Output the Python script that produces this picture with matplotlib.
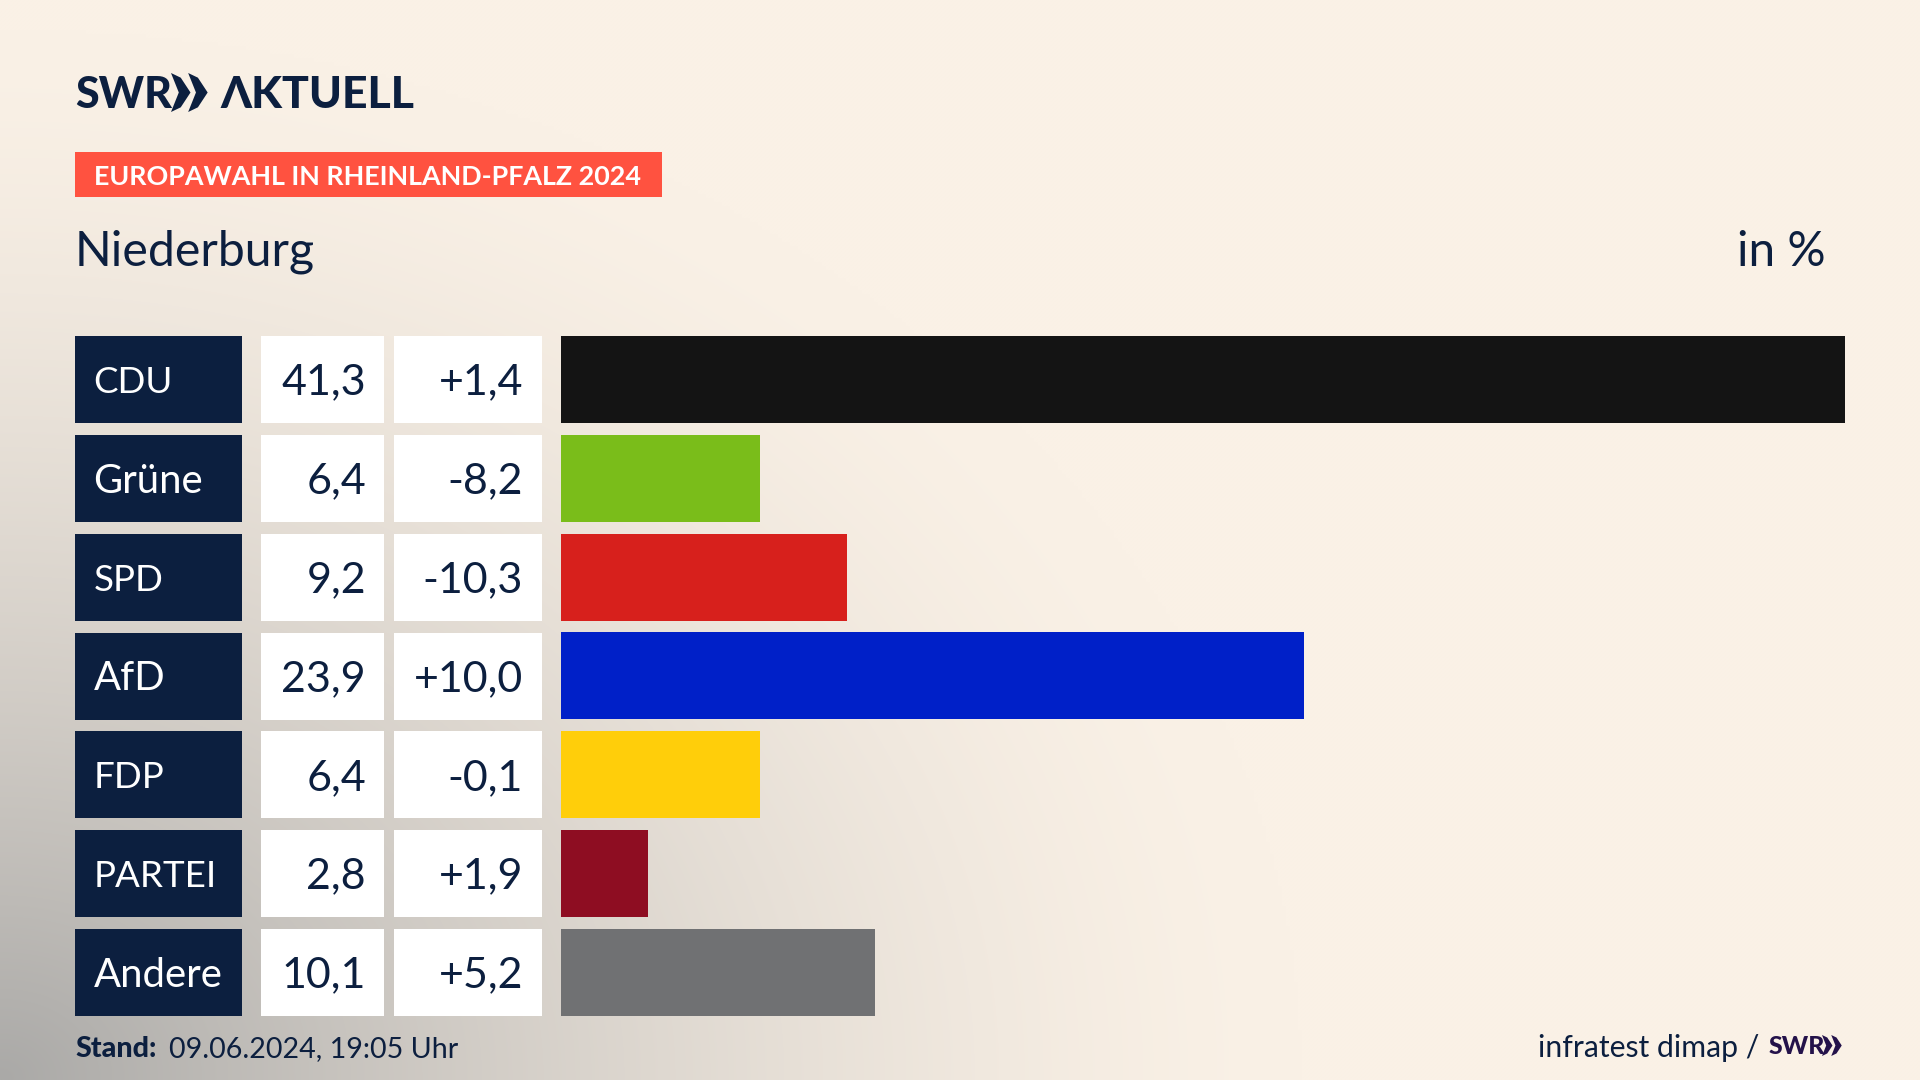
import numpy as np
import matplotlib
matplotlib.use("Agg")
import matplotlib.pyplot as plt
from matplotlib.patches import Rectangle, Polygon

parties = ["CDU", "Grüne", "SPD", "AfD", "FDP", "PARTEI", "Andere"]
shares = [41.3, 6.4, 9.2, 23.9, 6.4, 2.8, 10.1]
changes = [1.4, -8.2, -10.3, 10.0, -0.1, 1.9, 5.2]
colors = ["#141414", "#7ABD1A", "#D7201C", "#0020C8", "#FFCE0A", "#8E0D22", "#707173"]

NAVY = "#0C1F3F"
FONT = "Lato"
LOGO = ["Lato", "Liberation Sans"]
W, H = 1920, 1080
fig = plt.figure(figsize=(W / 100, H / 100), dpi=100)

bg = fig.add_axes([0, 0, 1, 1])
bg.set_xlim(0, W); bg.set_ylim(H, 0); bg.axis("off")
yy, xx = np.mgrid[0:H:270j, 0:W:480j]
d = np.sqrt((xx / 1300) ** 2 + ((H - yy) / 1050) ** 2)
t = np.clip(1 - d, 0, 1) ** 1.5
beige = np.array([250, 241, 230]) / 255
gray = np.array([170, 169, 167]) / 255
img = beige + (gray - beige) * t[..., None]
bg.imshow(img, extent=(0, W, H, 0), aspect="auto", interpolation="bilinear", zorder=0)
bg.set_xlim(0, W); bg.set_ylim(H, 0)

def chevrons(x, y, h, color):
    w = h * 0.5
    for k in (0, 1):
        x0 = x + k * h * 0.44
        bg.add_patch(Polygon([(x0, y), (x0 + w * 0.5, y + h * 0.12), (x0 + w, y + h / 2),
                              (x0 + w * 0.5, y + h * 0.88), (x0, y + h), (x0 + w * 0.4, y + h / 2)],
                             closed=True, fc=color, ec="none", zorder=3))

bg.text(75, 95, "SWR", family=LOGO, weight="black", fontsize=31, color=NAVY, va="center", ha="left", zorder=3)
chevrons(171, 73, 39, NAVY)
bg.text(220, 95, "ΛKTUELL", family=LOGO, weight="black", fontsize=32, color=NAVY, va="center", ha="left", zorder=3)

bg.add_patch(Rectangle((75, 152), 587, 45, fc="#FF5240", ec="none", zorder=2))
bg.text(94, 177, "EUROPAWAHL IN RHEINLAND-PFALZ 2024", family=FONT, weight="bold",
        fontsize=19.4, color="white", va="center", ha="left", zorder=3)
bg.text(75, 252, "Niederburg", family=FONT, fontsize=34.7, color=NAVY, va="center", ha="left", zorder=3)
bg.text(1826, 252, "in %", family=FONT, fontsize=34.3, color=NAVY, va="center", ha="right", zorder=3)

TOP, PITCH, RH = 336, (929 - 336) / 6, 87
def fmt(v):
    return f"{v:.1f}".replace(".", ",")
for i, (p, s, c) in enumerate(zip(parties, shares, changes)):
    y = TOP + i * PITCH
    yc = y + RH / 2 + 3
    bg.add_patch(Rectangle((75, y), 167, RH, fc=NAVY, ec="none", zorder=2))
    bg.add_patch(Rectangle((261, y), 123, RH, fc="white", ec="none", zorder=2))
    bg.add_patch(Rectangle((394, y), 148, RH, fc="white", ec="none", zorder=2))
    bg.text(93.5, yc, p, family=FONT, fontsize=26.5 if p.isupper() else 28.8, color="white",
            va="center", ha="left", zorder=3)
    bg.text(366, yc, fmt(s), family=FONT, fontsize=31, color=NAVY, va="center", ha="right", zorder=3)
    bg.text(523, yc, ("+" if c > 0 else "") + fmt(c), family=FONT, fontsize=31, color=NAVY,
            va="center", ha="right", zorder=3)

ax = fig.add_axes([561 / W, 1 - (TOP + 6 * PITCH + RH) / H, (1845 - 561) / W, (6 * PITCH + RH) / H])
ax.patch.set_alpha(0)
ax.barh(range(len(parties)), shares, height=RH / PITCH, color=colors)
pad = RH / PITCH / 2
ax.set_xlim(0, 41.3)
ax.set_ylim(6 + pad, -pad)
ax.axis("off")

bg.text(75, 1049, "Stand:", family=FONT, weight="black", fontsize=20.6, color=NAVY, va="center", ha="left", zorder=3)
bg.text(169, 1049, "09.06.2024, 19:05 Uhr", family=FONT, fontsize=20.6, color=NAVY, va="center", ha="left", zorder=3)
bg.text(1759, 1048, "infratest dimap /", family=FONT, fontsize=21.7, color=NAVY, va="center", ha="right", zorder=3)
bg.text(1769, 1047, "SWR", family=LOGO, weight="black", fontsize=18, color="#24124A", va="center", ha="left", zorder=3)
chevrons(1822, 1035, 21, "#24124A")

fig.savefig("out.png", dpi=100)
